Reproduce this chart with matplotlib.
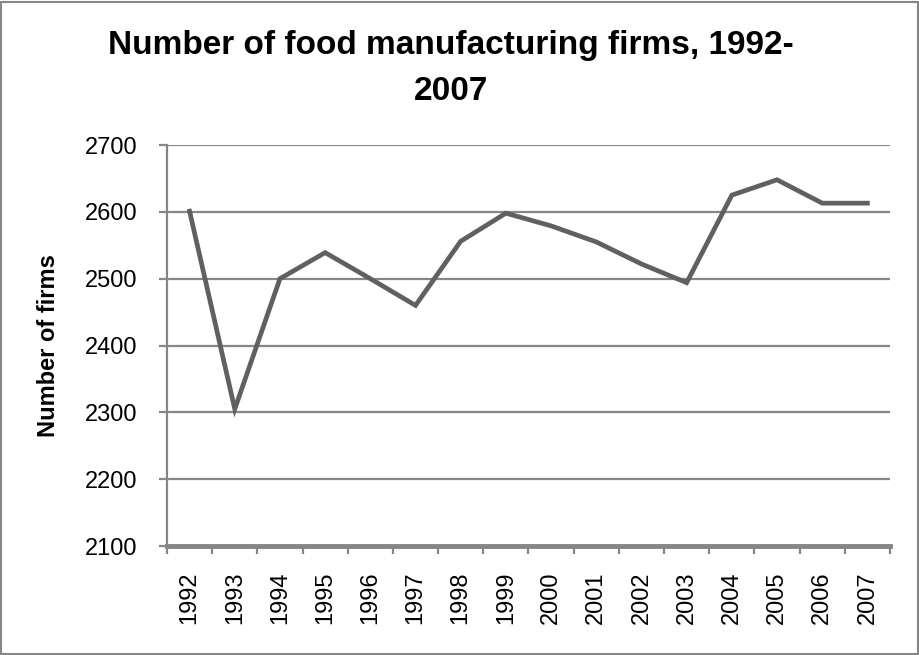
import matplotlib.pyplot as plt
from matplotlib.patches import Rectangle

plt.rcParams['font.family'] = ['Liberation Sans', 'DejaVu Sans']

# data
years = ['1992', '1993', '1994', '1995', '1996', '1997', '1998', '1999',
         '2000', '2001', '2002', '2003', '2004', '2005', '2006', '2007']
firms = [2601, 2305, 2500, 2539, 2500, 2460, 2556, 2598,
         2579, 2555, 2522, 2494, 2625, 2648, 2613, 2613]

fig = plt.figure(figsize=(9.2, 6.55), dpi=100)
ax = fig.add_axes([0.1815, 0.1664, 0.7859, 0.6122])

xs = [i + 0.5 for i in range(len(years))]
ax.plot(xs, firms, color='#606060', lw=3.4, solid_joinstyle='miter', zorder=3)

ax.set_ylim(2100, 2700)
ax.set_xlim(0, len(years))
ax.set_yticks(range(2100, 2701, 100))
ax.grid(axis='y', color='#868686', lw=1.6)
ax.set_axisbelow(True)

# category boundaries get the tick marks, labels sit in the middle
ax.set_xticks(range(len(years) + 1))
ax.set_xticklabels([])
ax.set_xticks(xs, minor=True)
ax.set_xticklabels(years, minor=True, rotation=90, fontsize=17)
ax.tick_params(axis='x', which='minor', length=0, pad=18)
ax.tick_params(axis='x', which='major', length=6, width=1.6, color='#868686')
ax.tick_params(axis='y', length=6, width=1.6, color='#868686', labelsize=17, pad=15)

for s in ['top', 'right']:
    ax.spines[s].set_visible(False)
ax.spines['left'].set_color('#868686')
ax.spines['left'].set_linewidth(1.6)
ax.spines['bottom'].set_color('#868686')
ax.spines['bottom'].set_linewidth(3.5)

ax.set_ylabel('Number of firms', fontsize=17, fontweight='bold', labelpad=18)

fig.text(0.49, 0.895, 'Number of food manufacturing firms, 1992-\n2007',
         ha='center', va='center', fontsize=24, fontweight='bold', linespacing=1.63)

fig.patches.append(Rectangle((0.001, 0.002), 0.997, 0.995, transform=fig.transFigure,
                             fill=False, edgecolor='#868686', lw=1.5))

plt.savefig('out.png')
